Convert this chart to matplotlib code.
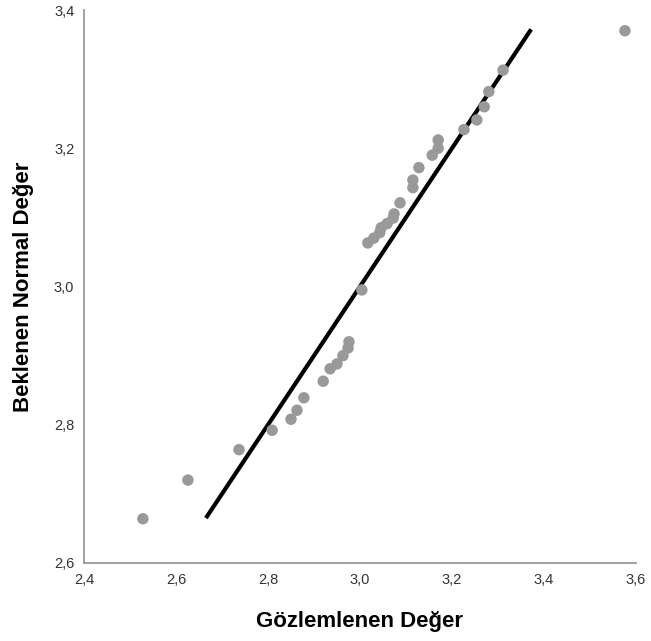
import matplotlib
matplotlib.use("Agg")
import matplotlib.pyplot as plt
from matplotlib.ticker import FuncFormatter

observed = [2.528, 2.626, 2.737, 2.809, 2.850, 2.863, 2.878, 2.920, 2.935, 2.950,
            2.963, 2.974, 2.976, 3.004, 3.017, 3.030, 3.043, 3.046, 3.059, 3.072,
            3.074, 3.087, 3.115, 3.115, 3.128, 3.157, 3.170, 3.170, 3.226, 3.254,
            3.270, 3.280, 3.311, 3.576]
expected = [2.664, 2.720, 2.764, 2.792, 2.808, 2.821, 2.839, 2.863, 2.881, 2.888,
            2.900, 2.911, 2.920, 2.995, 3.063, 3.070, 3.078, 3.085, 3.091, 3.099,
            3.105, 3.121, 3.143, 3.154, 3.172, 3.190, 3.200, 3.212, 3.227, 3.241,
            3.260, 3.282, 3.313, 3.370]
line_x = [2.665, 3.372]
line_y = [2.665, 3.372]

xticks = [2.4, 2.6, 2.8, 3.0, 3.2, 3.4, 3.6]
yticks = [2.6, 2.8, 3.0, 3.2, 3.4]

plt.rcParams['font.family'] = ['Liberation Sans', 'DejaVu Sans']

fig = plt.figure(figsize=(6.51, 6.41), dpi=100)
ax = fig.add_axes([84/651, 1-563/641, 552/651, 553/641])

ax.plot(line_x, line_y, color='black', linewidth=3, solid_capstyle='butt', zorder=2)
ax.scatter(observed, expected, s=68, color='#999999', edgecolors='none', zorder=3)

ax.set_xlim(2.4, 3.6)
ax.set_ylim(2.6, 3.4)
ax.set_xticks(xticks)
ax.set_yticks(yticks)
fmt = FuncFormatter(lambda v, p: f"{v:.1f}".replace('.', ','))
ax.xaxis.set_major_formatter(fmt)
ax.yaxis.set_major_formatter(fmt)
ax.tick_params(axis='both', length=0, labelsize=10.5, labelcolor='#333333')
ax.tick_params(axis='x', pad=7)
ax.tick_params(axis='y', pad=7)

for s in ['top', 'right']:
    ax.spines[s].set_visible(False)
for s in ['left', 'bottom']:
    ax.spines[s].set_color('#999999')
    ax.spines[s].set_linewidth(1.3)

ax.set_xlabel('Gözlemlenen Değer', fontsize=16, fontweight='bold')
ax.set_ylabel('Beklenen Normal Değer', fontsize=16, fontweight='bold')
ax.xaxis.set_label_coords(0.5, (563-621)/553)
ax.xaxis.label.set_va('center')
ax.yaxis.set_label_coords((24-84)/552, 0.5)
ax.yaxis.label.set_va('center')

fig.savefig('out.png', dpi=100)
